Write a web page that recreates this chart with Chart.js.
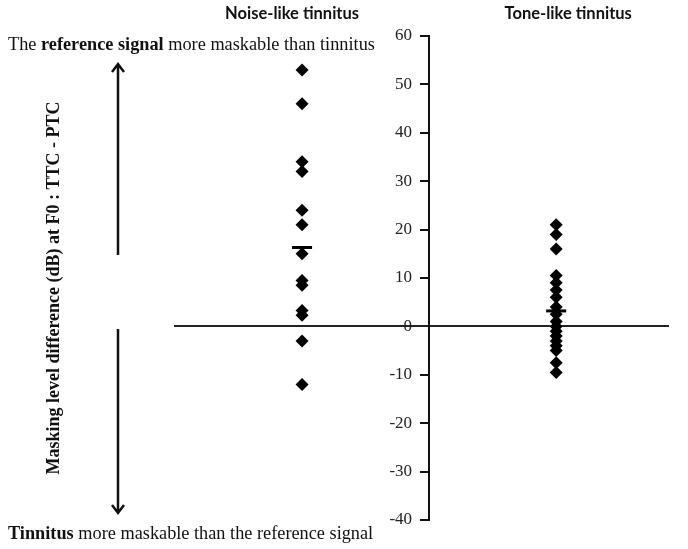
<!DOCTYPE html>
<html>
<head>
<meta charset="utf-8">
<script src="https://cdn.jsdelivr.net/npm/chart.js@4.4.1/dist/chart.umd.min.js"></script>
<style>
  html, body { margin: 0; padding: 0; background: #fff; }
  #wrap { width: 688px; height: 549px; }
</style>
</head>
<body>
<div id="wrap"><canvas id="mld" width="688" height="549"></canvas></div>
<script>
/* ---- data ---- */
const groups     = ['Noise-like tinnitus', 'Tone-like tinnitus'];
const groupX     = [1, 3];          // column positions on the hidden x scale
const noiseLike  = [53, 46, 34, 32, 24, 21, 15, 9.5, 8.5, 3.3, 2.3, -3, -12];
const toneLike   = [21, 19, 16, 10.5, 9, 7.5, 6, 4, 2.5, 1, 0, -1, -2, -3, -4, -5, -7.5, -9.5];
const groupMeans = [16.3, 3.2];
const yMin = -40, yMax = 60, yStep = 10;

const topNote    = [['The ', false], ['reference signal', true], [' more maskable than tinnitus', false]];
const bottomNote = [['Tinnitus', true], [' more maskable than the reference signal', false]];
const yLabel     = 'Masking level difference (dB) at F0 : TTC - PTC';

const SERIF = '"Liberation Serif", "Times New Roman", serif';

function drawRuns(ctx, x, y, runs, size) {
  runs.forEach(([txt, bold]) => {
    ctx.font = `${bold ? 'bold ' : ''}${size}px ${SERIF}`;
    ctx.fillText(txt, x, y);
    x += ctx.measureText(txt).width;
  });
}

function arrow(ctx, x, yFrom, yTo) {
  const dir = yTo < yFrom ? 1 : -1;
  ctx.beginPath();
  ctx.moveTo(x, yFrom); ctx.lineTo(x, yTo);
  ctx.moveTo(x - 6, yTo + dir * 8); ctx.lineTo(x, yTo); ctx.lineTo(x + 6, yTo + dir * 8);
  ctx.stroke();
}

/* ---- annotations around the plot ---- */
const notesPlugin = {
  id: 'notes',
  afterDraw(chart) {
    const { ctx, scales: { x } } = chart;
    ctx.save();
    ctx.fillStyle = '#111';
    ctx.textBaseline = 'alphabetic';
    ctx.textAlign = 'left';
    drawRuns(ctx, 8, 50, topNote, 18.3);
    drawRuns(ctx, 8, 539, bottomNote, 18.3);

    // column titles
    ctx.font = 'bold 16.5px Lato, "Open Sans", sans-serif';
    ctx.textAlign = 'center';
    const shift = [-10, 12];
    groups.forEach((g, i) => ctx.fillText(g, x.getPixelForValue(groupX[i]) + shift[i], 19));

    // rotated axis label
    ctx.save();
    ctx.translate(59, 288);
    ctx.rotate(-Math.PI / 2);
    ctx.font = `bold 18px ${SERIF}`;
    ctx.fillText(yLabel, 0, 0);
    ctx.restore();

    // arrows
    ctx.strokeStyle = '#111';
    ctx.lineWidth = 2.5;
    arrow(ctx, 118, 255, 64);
    arrow(ctx, 118, 329, 513);
    ctx.restore();
  }
};

const pts = (vals, xi) => vals.map(v => ({ x: groupX[xi], y: v }));

new Chart(document.getElementById('mld'), {
  type: 'scatter',
  data: {
    datasets: [
      { label: groups[0], data: pts(noiseLike, 0), pointStyle: 'rectRot', pointRadius: 6.5,
        backgroundColor: '#000', borderColor: '#000', borderWidth: 0 },
      { label: groups[1], data: pts(toneLike, 1), pointStyle: 'rectRot', pointRadius: 6.5,
        backgroundColor: '#000', borderColor: '#000', borderWidth: 0 },
      { label: 'Mean', data: groupMeans.map((m, i) => ({ x: groupX[i], y: m })), pointStyle: 'line',
        pointRadius: 10, borderColor: '#000', borderWidth: 3 },
    ],
  },
  options: {
    responsive: false,
    animation: false,
    devicePixelRatio: 1,
    layout: { padding: { left: 175, right: 20, top: 36, bottom: 29 } },
    plugins: { legend: { display: false }, tooltip: { enabled: false } },
    scales: {
      x: {
        type: 'linear', min: 0, max: 3.88,
        position: { y: 0 },
        grid: { display: false },
        ticks: { display: false },
        border: { display: true, color: '#222', width: 2 },
      },
      y: {
        type: 'linear', min: yMin, max: yMax,
        position: { x: 2 },
        grid: { drawOnChartArea: false, tickLength: 8, color: '#111', lineWidth: 2 },
        border: { display: true, color: '#111', width: 2 },
        // centred axes put labels flush on the line, so pad them with an em space
        ticks: { stepSize: yStep, color: '#222', font: { family: SERIF, size: 17 },
                 callback: v => v + '\u2003' },
      },
    },
  },
  plugins: [notesPlugin],
});
</script>
</body>
</html>
